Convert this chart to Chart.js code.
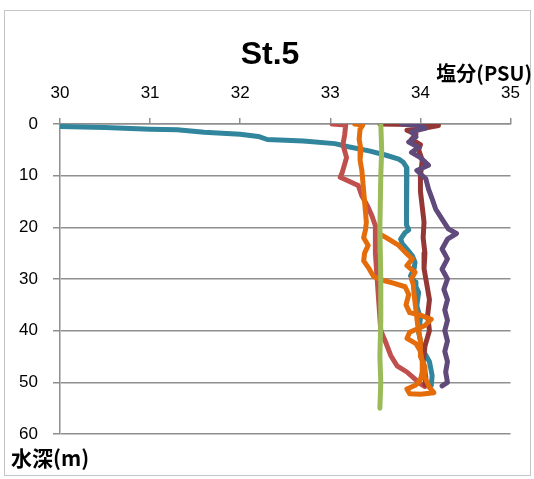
<!DOCTYPE html>
<html>
<head>
<meta charset="utf-8">
<title>St.5 塩分プロファイル</title>
<style>
  html, body { margin: 0; padding: 0; background: #ffffff; }
  #wrap { position: relative; width: 534px; height: 479px; }
</style>
<script src="https://cdn.jsdelivr.net/npm/chart.js@4.4.1/dist/chart.umd.min.js"></script>
</head>
<body>
<div id="wrap"><canvas id="chart" width="534" height="479"></canvas></div>
<script>
// Axis ticks
const salinityTicks = [30, 31, 32, 33, 34, 35];
const depthTicks = [0, 10, 20, 30, 40, 50, 60];

// Salinity (PSU) profiles against depth (m)
const tealSal = [30.0, 30.5, 31.0, 31.3, 31.6, 32.0, 32.2, 32.3, 32.7, 33.05, 33.2, 33.43, 33.61, 33.76, 33.81, 33.85, 33.85, 33.84, 33.87, 33.83, 33.78, 33.80, 33.85, 33.91, 33.94, 33.93, 33.89, 33.94, 33.95, 33.98, 33.96, 34.00, 33.98, 34.02, 34.10, 34.13, 34.12];
const tealDepth = [0.5, 0.7, 1.0, 1.1, 1.6, 2.0, 2.4, 3.0, 3.3, 3.8, 4.4, 5.2, 6.0, 6.8, 7.4, 8.5, 15.0, 19.5, 20.5, 21.0, 22.3, 23.2, 24.2, 25.5, 26.8, 28.0, 29.4, 30.6, 31.5, 32.6, 35.2, 37.7, 40.3, 43.5, 46.0, 48.7, 50.6];

const redSal = [33.02, 33.17, 33.16, 33.14, 33.18, 33.13, 33.11, 33.31, 33.35, 33.41, 33.46, 33.50, 33.50, 33.52, 33.54, 33.56, 33.62, 33.67, 33.74, 33.85, 33.94, 34.00, 34.05];
const redDepth = [0.0, 0.2, 2.0, 4.0, 6.5, 9.5, 10.3, 11.9, 13.9, 15.8, 17.7, 19.7, 25.0, 30.0, 35.0, 40.0, 42.5, 44.8, 46.8, 48.0, 49.4, 50.3, 50.8];

const darkRedSal = [33.55, 33.90, 34.20, 34.05, 33.85, 33.95, 33.90, 34.00, 33.98, 34.02, 34.00, 34.00, 34.02, 34.04, 34.03, 34.05, 34.04, 34.07, 34.10, 34.08, 34.10, 34.05, 34.03, 34.06, 34.05];
const darkRedDepth = [0.0, 0.1, 0.3, 0.8, 1.2, 2.0, 3.0, 4.0, 5.0, 7.0, 10.0, 13.0, 16.0, 19.0, 22.0, 25.0, 28.0, 31.0, 34.0, 37.0, 40.0, 43.0, 46.0, 49.0, 50.5];

const purpleSal = [33.80, 34.00, 34.06, 33.90, 33.95, 33.87, 33.98, 33.90, 34.00, 34.09, 33.96, 34.06, 34.09, 34.13, 34.17, 34.24, 34.31, 34.40, 34.30, 34.24, 34.30, 34.24, 34.30, 34.26, 34.30, 34.27, 34.30, 34.27, 34.30, 34.27, 34.30, 34.28, 34.30, 34.24];
const purpleDepth = [0.0, 0.3, 0.8, 1.5, 2.5, 3.5, 4.5, 5.5, 6.5, 8.0, 9.0, 10.6, 12.6, 14.5, 16.5, 18.4, 20.3, 21.2, 22.3, 24.2, 26.1, 28.1, 30.0, 32.0, 34.0, 36.0, 38.0, 40.0, 42.0, 44.0, 46.0, 48.0, 50.0, 50.7];

const orangeSal = [33.27, 33.36, 33.33, 33.32, 33.34, 33.33, 33.35, 33.36, 33.37, 33.38, 33.39, 33.40, 33.39, 33.37, 33.42, 33.38, 33.37, 33.43, 33.48, 33.57, 33.70, 33.83, 33.87, 33.84, 33.88, 34.00, 34.12, 34.05, 33.88, 33.85, 33.95, 34.00, 34.02, 34.02, 34.00, 33.95, 33.85, 33.88, 34.00, 34.15, 34.10, 34.05, 34.05, 34.00, 34.00, 33.97, 33.95, 33.93, 33.92, 33.90, 33.94, 33.85, 33.91, 33.83, 33.76, 33.62, 33.57];
const orangeDepth = [0.0, 0.2, 1.0, 3.0, 5.0, 7.0, 9.0, 11.0, 13.0, 15.0, 17.0, 19.0, 20.5, 22.0, 23.5, 25.0, 26.5, 28.0, 29.5, 30.2, 30.8, 31.5, 33.0, 35.0, 36.5, 37.0, 37.8, 39.0, 40.3, 41.5, 42.5, 44.0, 46.0, 48.0, 49.5, 50.5, 51.3, 52.2, 52.3, 52.0, 51.0, 49.0, 47.0, 45.0, 42.0, 39.0, 36.0, 33.0, 31.0, 30.0, 28.7, 27.4, 26.1, 24.8, 23.5, 22.0, 21.5];

const greenSal = [33.56, 33.57, 33.56, 33.55, 33.56, 33.56, 33.55, 33.56, 33.55];
const greenDepth = [0.0, 5.0, 10.0, 20.0, 30.0, 38.0, 45.0, 50.0, 55.0];

function profile(sal, depth) {
  return sal.map((s, i) => ({ x: s, y: depth[i] }));
}

function series(label, sal, depth, color) {
  return {
    label: label,
    data: profile(sal, depth),
    showLine: true,
    borderColor: color,
    backgroundColor: color,
    borderWidth: 5,
    pointRadius: 0,
    tension: 0,
    borderJoinStyle: 'round',
    borderCapStyle: 'round'
  };
}

// First dataset is painted last, i.e. on top
const datasets = [
  series('green', greenSal, greenDepth, '#9BBB59'),
  series('orange', orangeSal, orangeDepth, '#E46C0A'),
  series('purple', purpleSal, purpleDepth, '#604A7B'),
  series('darkred', darkRedSal, darkRedDepth, '#953735'),
  series('red', redSal, redDepth, '#C0504D'),
  series('teal', tealSal, tealDepth, '#31859C')
];

const gridColor = '#8f8f8f';
const tickFont = { family: '"Liberation Sans", Arial, sans-serif', size: 17 };

const labelsPlugin = {
  id: 'chartLabels',
  afterDraw(chart) {
    const ctx = chart.ctx;
    ctx.save();
    // outer frame
    ctx.strokeStyle = '#c4c4c4';
    ctx.lineWidth = 1;
    ctx.strokeRect(4.5, 10.5, 526, 465);
    ctx.fillStyle = '#000000';
    ctx.textAlign = 'center';
    ctx.textBaseline = 'alphabetic';
    ctx.font = 'bold 32px "Liberation Sans", Arial, sans-serif';
    ctx.fillText('St.5', 270, 64);
    ctx.font = 'bold 20px "Noto Sans CJK JP", sans-serif';
    ctx.textAlign = 'right';
    ctx.textBaseline = 'middle';
    ctx.fillText('塩分(PSU)', 532, 73);
    ctx.font = 'bold 21px "Noto Sans CJK JP", sans-serif';
    ctx.textAlign = 'left';
    ctx.fillText('水深(m)', 11, 458);
    ctx.restore();
  }
};

new Chart(document.getElementById('chart').getContext('2d'), {
  type: 'scatter',
  data: { datasets: datasets },
  options: {
    responsive: false,
    animation: false,
    layout: { padding: { left: 0, top: 0, right: 22, bottom: 45 } },
    plugins: {
      legend: { display: false },
      tooltip: { enabled: false },
      title: { display: false }
    },
    scales: {
      x: {
        type: 'linear',
        position: 'top',
        min: 30,
        max: 35,
        afterBuildTicks: (s) => { s.ticks = salinityTicks.map(v => ({ value: v })); },
        afterFit: (s) => { s.height = 124; },
        ticks: { font: tickFont, color: '#000000', padding: 14, maxRotation: 0 },
        grid: { drawOnChartArea: false, drawTicks: true, tickLength: 6, color: gridColor, lineWidth: 1.5 },
        border: { display: true, color: gridColor, width: 1.5 }
      },
      y: {
        type: 'linear',
        reverse: true,
        min: 0,
        max: 60,
        afterBuildTicks: (s) => { s.ticks = depthTicks.map(v => ({ value: v })); },
        afterFit: (s) => { s.width = 60; },
        ticks: { font: tickFont, color: '#000000', padding: 15 },
        grid: { drawTicks: true, tickLength: 7, color: gridColor, lineWidth: 1.5 },
        border: { display: true, color: gridColor, width: 1.5 }
      }
    }
  },
  plugins: [labelsPlugin]
});
</script>
</body>
</html>
